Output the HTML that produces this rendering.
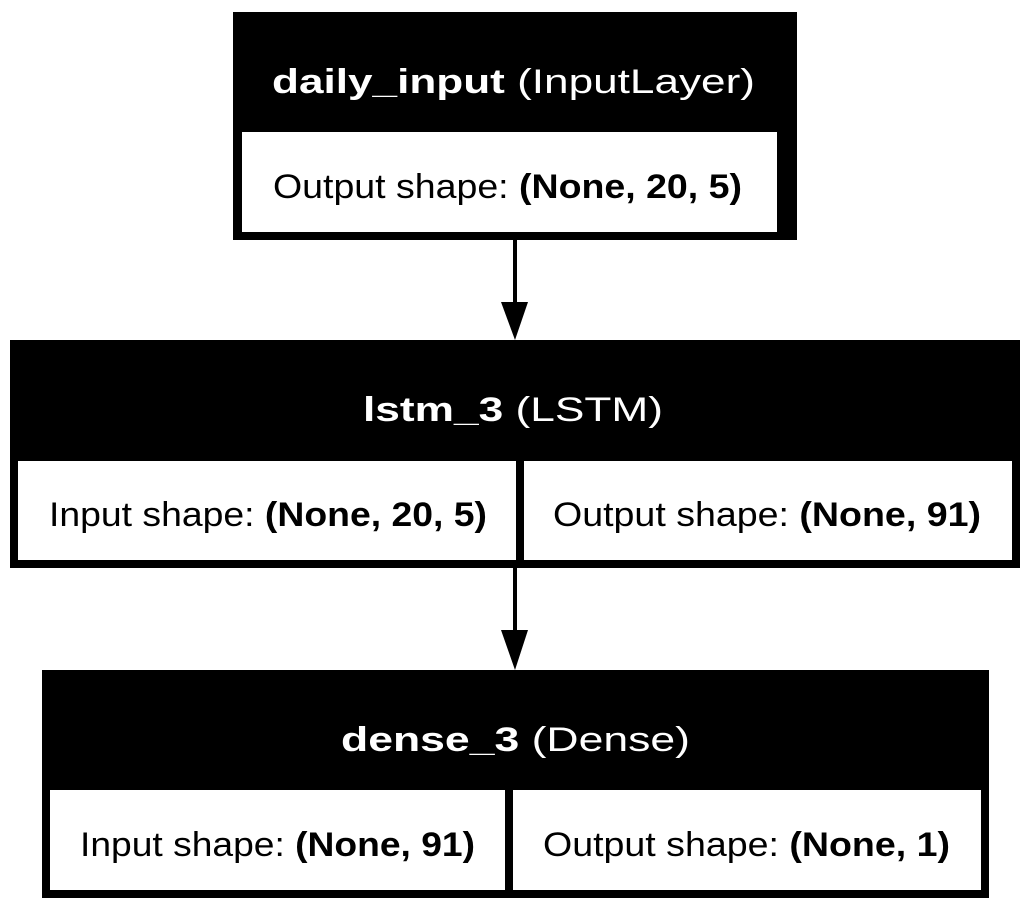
<!DOCTYPE html>
<html><head><meta charset="utf-8"><style>html,body{margin:0;padding:0;background:#fff}svg{display:block}text{font-family:"Liberation Sans",Helvetica,Arial,sans-serif;font-size:34px}</style></head>
<body>
<svg width="1030" height="910" viewBox="0 0 1030 910" xmlns="http://www.w3.org/2000/svg">
<rect width="1030" height="910" fill="#fff"/>
<rect x="233" y="12" width="564" height="228" fill="#000"/>
<rect x="242" y="132" width="535" height="100" fill="#fff"/>
<text x="272" y="93" fill="#fff" textLength="483" lengthAdjust="spacingAndGlyphs"><tspan font-weight="bold">daily_input</tspan> (InputLayer)</text>
<text x="273" y="198" fill="#000" textLength="469" lengthAdjust="spacingAndGlyphs">Output shape: <tspan font-weight="bold">(None, 20, 5)</tspan></text>
<rect x="513" y="240" width="4" height="64" fill="#000"/>
<polygon points="501,302 528,302 515,340" fill="#000"/>
<rect x="10" y="340" width="1010" height="228" fill="#000"/>
<rect x="18" y="461" width="498" height="99" fill="#fff"/>
<rect x="524" y="461" width="488" height="99" fill="#fff"/>
<text x="363" y="421" fill="#fff" textLength="300" lengthAdjust="spacingAndGlyphs"><tspan font-weight="bold">lstm_3</tspan> (LSTM)</text>
<text x="49" y="526" fill="#000" textLength="438" lengthAdjust="spacingAndGlyphs">Input shape: <tspan font-weight="bold">(None, 20, 5)</tspan></text>
<text x="553" y="526" fill="#000" textLength="428" lengthAdjust="spacingAndGlyphs">Output shape: <tspan font-weight="bold">(None, 91)</tspan></text>
<rect x="513" y="568" width="4" height="64" fill="#000"/>
<polygon points="501,630 528,630 515,670" fill="#000"/>
<rect x="42" y="670" width="947" height="228" fill="#000"/>
<rect x="50" y="790" width="455" height="100" fill="#fff"/>
<rect x="513" y="790" width="468" height="100" fill="#fff"/>
<text x="341" y="751" fill="#fff" textLength="349" lengthAdjust="spacingAndGlyphs"><tspan font-weight="bold">dense_3</tspan> (Dense)</text>
<text x="80" y="856" fill="#000" textLength="395" lengthAdjust="spacingAndGlyphs">Input shape: <tspan font-weight="bold">(None, 91)</tspan></text>
<text x="543" y="856" fill="#000" textLength="407" lengthAdjust="spacingAndGlyphs">Output shape: <tspan font-weight="bold">(None, 1)</tspan></text>
</svg>
</body></html>
